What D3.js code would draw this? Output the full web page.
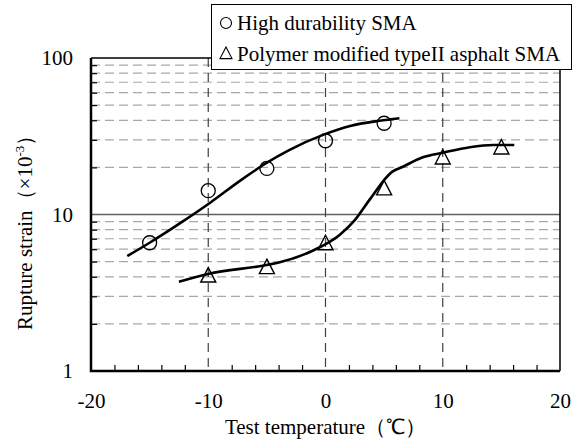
<!DOCTYPE html>
<html>
<head>
<meta charset="utf-8">
<script src="https://cdn.jsdelivr.net/npm/d3@7"></script>
<style>
  body { margin: 0; background: #fff; }
  svg { display: block; font-family: "Liberation Serif", "Times New Roman", serif; }
</style>
</head>
<body>
<div id="chart"></div>
<script>
"use strict";

// axis ticks
const xTicks = [-20, -10, 0, 10, 20];
const xMinorTicks = [-18, -16, -14, -12, -8, -6, -4, -2, 2, 4, 6, 8, 12, 14, 16, 18];
const yTicks = [1, 10, 100];
const yMinorTicks = [2, 3, 4, 5, 6, 7, 8, 9, 20, 30, 40, 50, 60, 70, 80, 90];
const xGrid = [-10, 0, 10];

// measured points
const hdTemp = [-15, -10, -5, 0, 5];
const hdStrain = [6.6, 14.2, 19.7, 29.6, 38.3];
const pmTemp = [-10, -5, 0, 5, 10, 15];
const pmStrain = [4.1, 4.64, 6.6, 14.8, 23.3, 27.0];

// fitted curves
const hdFitTemp = [-16.9, -15, -12.2, -9.9, -7.3, -5.1, -3.1, -0.1, 2.1, 4.6, 6.3];
const hdFitStrain = [5.43, 6.6, 9.0, 11.8, 16.4, 21.2, 25.8, 32.5, 36.8, 39.7, 41.2];
const pmFitTemp = [-12.5, -10, -5, -3.9, -1.1, 1.2, 2.5, 3.75, 5.7, 6.6, 8.3, 10, 12.3, 14.3, 16.1];
const pmFitStrain = [3.72, 4.17, 4.76, 4.95, 5.87, 7.4, 9.2, 12.4, 18.8, 20.2, 23.2, 24.8, 26.9, 27.8, 27.8];

const legendLabels = ["High durability SMA", "Polymer modified typeII asphalt SMA"];

const W = 578, H = 443;
const plotLeft = 91, plotRight = 560, plotTop = 58, plotBottom = 371;
const FONT = 21;

const svg = d3.select("#chart").append("svg")
  .attr("width", W)
  .attr("height", H);

const x = d3.scaleLinear().domain([-20, 20]).range([plotLeft, plotRight]);
const y = d3.scaleLog().domain([1, 100]).range([plotBottom, plotTop]);

// grid
svg.append("g")
  .selectAll("line")
  .data(yMinorTicks)
  .enter()
  .append("line")
  .attr("x1", plotLeft).attr("x2", plotRight)
  .attr("y1", d => y(d)).attr("y2", d => y(d))
  .attr("stroke", "#a8a8a8")
  .attr("stroke-width", 1.2)
  .attr("stroke-dasharray", "9,5");

svg.append("line")
  .attr("x1", plotLeft).attr("x2", plotRight)
  .attr("y1", y(10)).attr("y2", y(10))
  .attr("stroke", "#606060")
  .attr("stroke-width", 1.5);

svg.append("g")
  .selectAll("line")
  .data(xGrid)
  .enter()
  .append("line")
  .attr("x1", d => x(d)).attr("x2", d => x(d))
  .attr("y1", plotTop).attr("y2", plotBottom)
  .attr("stroke", "#404040")
  .attr("stroke-width", 1.2)
  .attr("stroke-dasharray", "9,6");

// minor ticks pointing inward
svg.append("g")
  .attr("transform", `translate(0, ${plotBottom})`)
  .call(d3.axisBottom(x).tickValues(xMinorTicks).tickSizeInner(-6).tickSizeOuter(0).tickFormat(""))
  .call(g => g.select(".domain").remove())
  .selectAll("line").attr("stroke", "#000").attr("stroke-width", 1.2);

svg.append("g")
  .attr("transform", `translate(${plotLeft}, 0)`)
  .call(d3.axisLeft(y).tickValues(yMinorTicks).tickSizeInner(-6).tickSizeOuter(0).tickFormat(""))
  .call(g => g.select(".domain").remove())
  .selectAll("line").attr("stroke", "#000").attr("stroke-width", 1.2);

// tick labels (plain hyphen for negatives, like the original)
const xAxis = svg.append("g")
  .attr("transform", `translate(0, ${plotBottom})`)
  .call(d3.axisBottom(x).tickValues(xTicks).tickSize(0).tickPadding(22).tickFormat(d => String(d)));
xAxis.select(".domain").remove();
xAxis.attr("font-family", null).attr("font-size", null);
xAxis.selectAll("text")
  .attr("font-size", FONT)
  .attr("fill", "#000");

const yAxis = svg.append("g")
  .attr("transform", `translate(${plotLeft}, 0)`)
  .call(d3.axisLeft(y).tickValues(yTicks).tickSize(0).tickPadding(18).tickFormat(d => String(d)));
yAxis.select(".domain").remove();
yAxis.attr("font-family", null).attr("font-size", null);
yAxis.selectAll("text")
  .attr("font-size", FONT)
  .attr("fill", "#000");

// frame
svg.append("path")
  .attr("d", `M${plotLeft},${plotTop}H${plotRight}V${plotBottom}`)
  .attr("fill", "none")
  .attr("stroke", "#000")
  .attr("stroke-width", 1.5);
svg.append("path")
  .attr("d", `M${plotLeft},${plotTop}V${plotBottom}H${plotRight}`)
  .attr("fill", "none")
  .attr("stroke", "#000")
  .attr("stroke-width", 2.5);

// curves
const line = d3.line()
  .x(d => x(d[0]))
  .y(d => y(d[1]))
  .curve(d3.curveMonotoneX);

svg.append("path")
  .datum(d3.zip(hdFitTemp, hdFitStrain))
  .attr("d", line)
  .attr("fill", "none")
  .attr("stroke", "#000")
  .attr("stroke-width", 2.6);

svg.append("path")
  .datum(d3.zip(pmFitTemp, pmFitStrain))
  .attr("d", line)
  .attr("fill", "none")
  .attr("stroke", "#000")
  .attr("stroke-width", 2.6);

// markers
const triPath = s => `M0,${-s}L${s},${s * 0.93}L${-s},${s * 0.93}Z`;

svg.append("g")
  .selectAll("circle")
  .data(d3.zip(hdTemp, hdStrain))
  .enter()
  .append("circle")
  .attr("cx", d => x(d[0]))
  .attr("cy", d => y(d[1]))
  .attr("r", 7)
  .attr("fill", "none")
  .attr("stroke", "#000")
  .attr("stroke-width", 1.3);

svg.append("g")
  .selectAll("path")
  .data(d3.zip(pmTemp, pmStrain))
  .enter()
  .append("path")
  .attr("d", triPath(7.5))
  .attr("transform", d => `translate(${x(d[0])}, ${y(d[1])})`)
  .attr("fill", "none")
  .attr("stroke", "#000")
  .attr("stroke-width", 1.4);

// axis titles
svg.append("text")
  .attr("x", (plotLeft + plotRight) / 2)
  .attr("y", 434)
  .attr("text-anchor", "middle")
  .attr("font-size", FONT)
  .text("Test temperature（℃）");

const yTitle = svg.append("text")
  .attr("transform", "translate(32, 330) rotate(-90)")
  .attr("text-anchor", "start")
  .attr("font-size", FONT);
yTitle.append("tspan").text("Rupture strain（×10");
yTitle.append("tspan").attr("font-size", 13).attr("dy", -8).text("-3");
yTitle.append("tspan").attr("dy", 8).text("）");

// legend
const legend = svg.append("g");
legend.append("rect")
  .attr("x", 211.5)
  .attr("y", 4.5)
  .attr("width", 360)
  .attr("height", 65)
  .attr("fill", "#fff")
  .attr("stroke", "#000")
  .attr("stroke-width", 1);

legend.append("circle")
  .attr("cx", 226)
  .attr("cy", 23)
  .attr("r", 5.5)
  .attr("fill", "none")
  .attr("stroke", "#000")
  .attr("stroke-width", 1.1);

legend.append("path")
  .attr("d", triPath(6))
  .attr("transform", "translate(226, 53)")
  .attr("fill", "none")
  .attr("stroke", "#000")
  .attr("stroke-width", 1.1);

legend.selectAll("text")
  .data(legendLabels)
  .enter()
  .append("text")
  .attr("x", 237)
  .attr("y", (d, i) => 30 + i * 31)
  .attr("font-size", FONT)
  .text(d => d);
</script>
</body>
</html>
